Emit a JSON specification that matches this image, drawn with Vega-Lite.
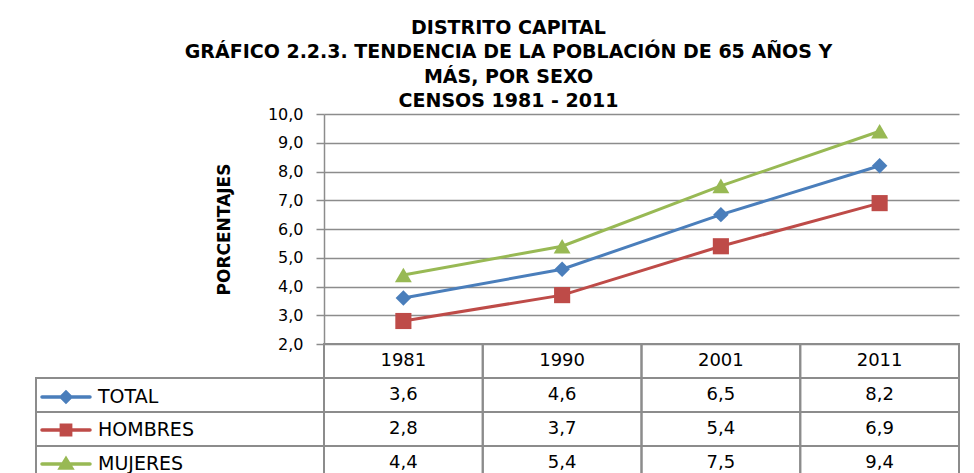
{
  "$schema": "https://vega.github.io/schema/vega-lite/v6.json",
  "padding": {"left": 35, "top": 18, "right": 0, "bottom": 0},
  "background": "white",
  "datasets": {
    "censos": [
      {"serie": "TOTAL", "anio": "1981", "pct": 3.6},
      {"serie": "TOTAL", "anio": "1990", "pct": 4.6},
      {"serie": "TOTAL", "anio": "2001", "pct": 6.5},
      {"serie": "TOTAL", "anio": "2011", "pct": 8.2},
      {"serie": "HOMBRES", "anio": "1981", "pct": 2.8},
      {"serie": "HOMBRES", "anio": "1990", "pct": 3.7},
      {"serie": "HOMBRES", "anio": "2001", "pct": 5.4},
      {"serie": "HOMBRES", "anio": "2011", "pct": 6.9},
      {"serie": "MUJERES", "anio": "1981", "pct": 4.4},
      {"serie": "MUJERES", "anio": "1990", "pct": 5.4},
      {"serie": "MUJERES", "anio": "2001", "pct": 7.5},
      {"serie": "MUJERES", "anio": "2011", "pct": 9.4}
    ]
  },
  "title": {
    "text": ["DISTRITO CAPITAL", "GRÁFICO 2.2.3. TENDENCIA  DE LA POBLACIÓN  DE 65 AÑOS Y", "MÁS, POR SEXO", "CENSOS 1981 - 2011"],
    "font": "DejaVu Sans", "fontSize": 19, "fontWeight": "bold", "lineHeight": 24.5,
    "anchor": "middle", "color": "#000000", "offset": -5, "dx": 11
  },
  "columns": 1,
  "align": "none",
  "spacing": -9,
  "resolve": {"scale": {"x": "independent", "y": "independent"}},
  "concat": [
    {
      "width": 923,
      "height": 230,
      "data": {"name": "censos"},
      "encoding": {
        "x": {"field": "anio", "type": "ordinal", "scale": {"type": "band", "range": [288, 923], "paddingInner": 0, "paddingOuter": 0}, "axis": null},
        "y": {
          "field": "pct", "type": "quantitative",
          "scale": {"domain": [2, 10], "nice": false, "zero": false},
          "axis": {
            "offset": -288,
            "title": "PORCENTAJES", "titleFont": "DejaVu Sans", "titleFontSize": 17, "titleFontWeight": "bold", "titleColor": "#000000",
            "titleAngle": 270, "titleX": -100, "titleY": 115, "titleAlign": "center", "titleBaseline": "middle",
            "values": [2, 3, 4, 5, 6, 7, 8, 9, 10], "format": ".1f",
            "labelFont": "DejaVu Sans", "labelFontSize": 16, "labelColor": "#000000", "labelPadding": 13,
            "grid": true, "gridColor": "#8c8c8c", "gridWidth": 1.5,
            "domainColor": "#8c8c8c", "domainWidth": 1.5,
            "tickColor": "#8c8c8c", "tickWidth": 1.5, "tickSize": 8
          }
        },
        "color": {
          "field": "serie", "type": "nominal",
          "scale": {"domain": ["TOTAL", "HOMBRES", "MUJERES"], "range": ["#4A7EBB", "#BE4B48", "#98B954"]},
          "legend": {
            "orient": "none", "legendX": 20, "legendY": 273, "title": null, "direction": "vertical",
            "labelFont": "DejaVu Sans", "labelFontSize": 19, "labelColor": "#000000", "labelLimit": 300,
            "symbolSize": 256, "labelOffset": 22, "rowPadding": 9,
            "encode": {
              "symbols": {
                "update": {
                  "shape": {"signal": "datum.value == 'TOTAL' ? 'M-3,0H3M0,-0.6L0.6,0L0,0.6L-0.6,0Z' : datum.value == 'HOMBRES' ? 'M-3,0H3M-0.58,-0.58H0.58V0.58H-0.58Z' : 'M-3,0H3M0,-0.65L0.7,0.5H-0.7Z'"},
                  "fill": {"signal": "datum.value == 'TOTAL' ? '#4A7EBB' : datum.value == 'HOMBRES' ? '#BE4B48' : '#98B954'"},
                  "stroke": {"signal": "datum.value == 'TOTAL' ? '#4A7EBB' : datum.value == 'HOMBRES' ? '#BE4B48' : '#98B954'"},
                  "strokeWidth": {"value": 3.5},
                  "strokeCap": {"value": "round"},
                  "opacity": {"value": 1},
                  "fillOpacity": {"value": 1}
                }
              }
            }
          }
        }
      },
      "layer": [
        {"mark": {"type": "line", "strokeWidth": 3}},
        {
          "transform": [{"filter": "datum.serie == 'TOTAL'"}],
          "mark": {"type": "point", "shape": "diamond", "filled": true, "opacity": 1, "size": 240}
        },
        {
          "transform": [{"filter": "datum.serie == 'HOMBRES'"}],
          "mark": {"type": "point", "shape": "square", "filled": true, "opacity": 1, "size": 260}
        },
        {
          "transform": [{"filter": "datum.serie == 'MUJERES'"}],
          "mark": {"type": "point", "shape": "triangle-up", "filled": true, "opacity": 1, "size": 285}
        }
      ]
    },
    {
      "width": 923,
      "height": 136,
      "data": {"name": "censos"},
      "encoding": {
        "x": {"field": "anio", "type": "ordinal", "scale": {"type": "band", "domain": ["1981", "1990", "2001", "2011"], "range": [288, 923], "paddingInner": 0, "paddingOuter": 0}, "axis": null},
        "y": {"field": "serie", "type": "nominal", "scale": {"type": "band", "domain": ["CENSO", "TOTAL", "HOMBRES", "MUJERES"], "paddingInner": 0, "paddingOuter": 0}, "axis": null}
      },
      "layer": [
        {
          "transform": [{"filter": "datum.anio == '1981'"}],
          "mark": {"type": "rect", "fill": "transparent", "stroke": "#8c8c8c", "strokeWidth": 2},
          "encoding": {"x": null}
        },
        {
          "mark": {"type": "rect", "fill": "transparent", "stroke": "#8c8c8c", "strokeWidth": 2}
        },
        {
          "transform": [{"filter": "datum.serie == 'TOTAL'"}],
          "mark": {"type": "rect", "fill": "transparent", "stroke": "#8c8c8c", "strokeWidth": 2},
          "encoding": {"y": {"datum": "CENSO", "type": "nominal"}}
        },
        {
          "transform": [{"filter": "datum.serie == 'TOTAL'"}],
          "mark": {"type": "text", "font": "DejaVu Sans", "fontSize": 18, "color": "#000000"},
          "encoding": {"y": {"datum": "CENSO", "type": "nominal"}, "text": {"field": "anio"}}
        },
        {
          "mark": {"type": "text", "font": "DejaVu Sans", "fontSize": 18, "color": "#000000"},
          "encoding": {"text": {"field": "pct", "type": "quantitative", "format": ".1f"}}
        }
      ]
    }
  ],
  "config": {
    "view": {"stroke": null},
    "locale": {"number": {"decimal": ",", "thousands": ".", "grouping": [3], "currency": ["$", ""]}}
  }
}
